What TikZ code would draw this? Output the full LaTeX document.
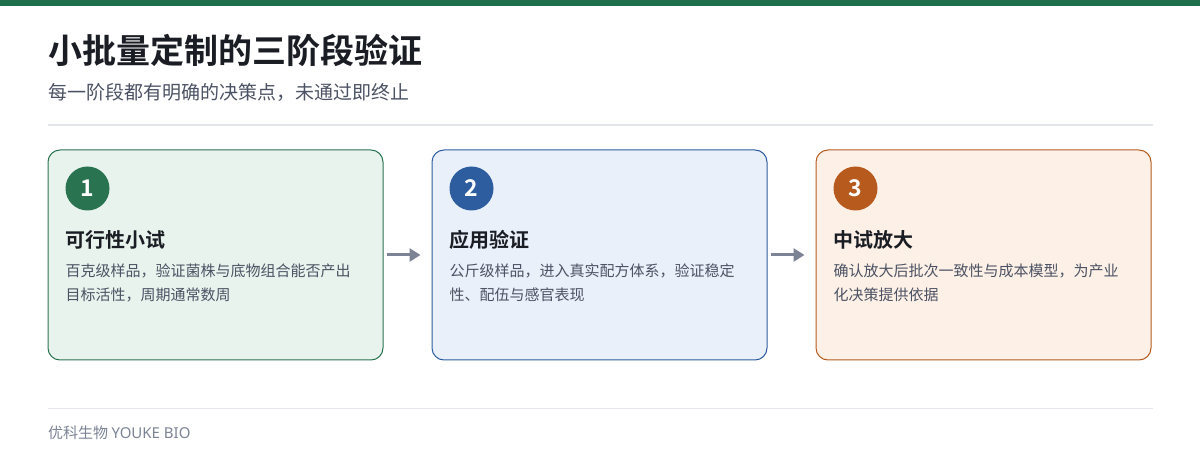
\documentclass[tikz,border=0pt]{standalone}
\usepackage{fontspec}
\setmainfont{Noto Sans CJK SC}[BoldFont={Noto Sans CJK SC Bold}]
\newfontfamily\latinsans{Noto Sans}
\usetikzlibrary{positioning,arrows.meta}

\definecolor{brandgreen}{HTML}{1F6E4B}
\definecolor{titleink}{HTML}{1A1D23}
\definecolor{bodyink}{HTML}{4B5263}
\definecolor{ruleline}{HTML}{E3E6EB}
\definecolor{arrowgray}{HTML}{7B8395}
\definecolor{greenfill}{HTML}{E9F3ED}
\definecolor{greenline}{HTML}{2A7350}
\definecolor{bluefill}{HTML}{E9F0FA}
\definecolor{blueline}{HTML}{2D5D9F}
\definecolor{orangefill}{HTML}{FDF0E7}
\definecolor{orangeline}{HTML}{B65A1E}

\tikzstyle{stagebox} = [rectangle, rounded corners=12pt, minimum width=335pt, minimum height=210pt, line width=1pt]
\tikzstyle{stagenum} = [circle, minimum size=44pt, inner sep=0pt, text=white, font=\fontsize{23}{26}\selectfont\bfseries]
\tikzstyle{stagehead} = [anchor=west, inner sep=0pt, text=titleink, font=\fontsize{20}{24}\selectfont\bfseries]
\tikzstyle{stagetext} = [anchor=north west, inner sep=0pt, align=left, text=bodyink, font=\fontsize{15}{24}\selectfont]
\tikzstyle{arrow} = [-{Triangle[length=11pt,width=13pt]}, line width=3pt, draw=arrowgray, shorten <=3pt, shorten >=11pt]

\begin{document}
\begin{tikzpicture}[x=1pt,y=1pt]
	\useasboundingbox (0,0) rectangle (1200,-470);
	\fill [brandgreen] (0,0) rectangle (1200,-6);

	\node (title) [anchor=west, inner sep=0pt, text=titleink, font=\fontsize{34}{40}\selectfont\bfseries] at (48,-50) {小批量定制的三阶段验证};
	\node (subtitle) [anchor=west, inner sep=0pt, text=bodyink, font=\fontsize{19}{24}\selectfont] at (48,-92) {每一阶段都有明确的决策点，未通过即终止};
	\draw [ruleline, line width=1.5pt] (48,-125) -- (1153,-125);

	\node (box1) [stagebox, draw=greenline, fill=greenfill] at (215.5,-255) {};
	\node (box2) [stagebox, draw=blueline, fill=bluefill, right=48pt of box1] {};
	\node (box3) [stagebox, draw=orangeline, fill=orangefill, right=48pt of box2] {};

	\node (num1) [stagenum, fill=greenline, xshift=40pt, yshift=-39pt] at (box1.north west) {1};
	\node (num2) [stagenum, fill=blueline, xshift=40pt, yshift=-39pt] at (box2.north west) {2};
	\node (num3) [stagenum, fill=orangeline, xshift=40pt, yshift=-39pt] at (box3.north west) {3};

	\node (head1) [stagehead, xshift=18pt, yshift=-90pt] at (box1.north west) {可行性小试};
	\node (head2) [stagehead, xshift=18pt, yshift=-90pt] at (box2.north west) {应用验证};
	\node (head3) [stagehead, xshift=18pt, yshift=-90pt] at (box3.north west) {中试放大};

	\node (text1) [stagetext, xshift=18pt, yshift=-114pt] at (box1.north west) {百克级样品，验证菌株与底物组合能否产出\\目标活性，周期通常数周};
	\node (text2) [stagetext, xshift=18pt, yshift=-114pt] at (box2.north west) {公斤级样品，进入真实配方体系，验证稳定\\性、配伍与感官表现};
	\node (text3) [stagetext, xshift=18pt, yshift=-114pt] at (box3.north west) {确认放大后批次一致性与成本模型，为产业\\化决策提供依据};

	\draw [arrow] (box1) -- (box2);
	\draw [arrow] (box2) -- (box3);

	\draw [ruleline, line width=1pt] (48,-408) -- (1153,-408);
	\node (footer) [anchor=west, inner sep=0pt, text=arrowgray, font=\fontsize{15}{18}\selectfont] at (48,-433) {优科生物 {\latinsans YOUKE BIO}};
\end{tikzpicture}
\end{document}
